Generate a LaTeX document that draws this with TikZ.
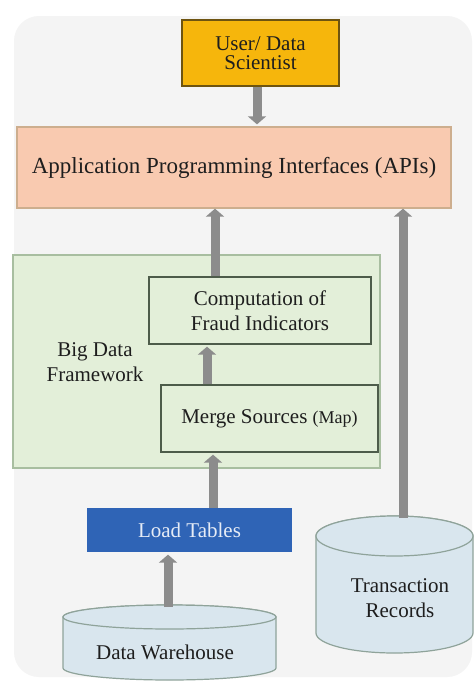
\documentclass[tikz,border=0pt]{standalone}
\usepackage{fontspec}
\setmainfont{Liberation Serif}
\usetikzlibrary{arrows.meta}

\definecolor{panelgray}{HTML}{F4F4F4}
\definecolor{userfill}{HTML}{F6B60C}
\definecolor{userdraw}{HTML}{6E5410}
\definecolor{apifill}{HTML}{F9CAB0}
\definecolor{apidraw}{HTML}{CDAE8E}
\definecolor{greenfill}{HTML}{E3EFD9}
\definecolor{greendraw}{HTML}{A8BEA0}
\definecolor{stepdraw}{HTML}{4D5C4A}
\definecolor{loadfill}{HTML}{2F64B6}
\definecolor{loadtext}{HTML}{E6ECF6}
\definecolor{cylfill}{HTML}{D9E6EE}
\definecolor{cyldraw}{HTML}{8FA39A}
\definecolor{arrowgray}{HTML}{8C8C8C}
\definecolor{textdark}{HTML}{1E1E1E}

\begin{document}
\begin{tikzpicture}[x=1pt,y=-1pt,
  txt/.style={font=\fontsize{21}{25}\selectfont, text=textdark, align=center},
  box/.style={txt, draw, line width=1.3pt, inner sep=0pt, anchor=center},
  flow/.style={draw=arrowgray, line width=9pt,
    -{Triangle[length=8pt,width=18pt]}, shorten >=2pt},
  cyl/.style={fill=cylfill, draw=cyldraw, line width=1.2pt}
]
\useasboundingbox (0,0) rectangle (475,681);
\fill[white] (0,0) rectangle (475,681);
\fill[panelgray, rounded corners=25pt] (14,16) rectangle (472,677);

% framework panel
\node[box, fill=greenfill, draw=greendraw, minimum width=367pt, minimum height=213pt]
  (bdf) at (196.5,361.5) {};
\node[txt] (bdflabel) at (95,362) {Big Data\\Framework};

% boxes
\node[box, fill=userfill, draw=userdraw, minimum width=157pt, minimum height=66pt,
  font=\fontsize{21}{19}\selectfont] (user) at (260.5,53) {User/ Data\\Scientist};
\node[box, fill=apifill, draw=apidraw, minimum width=434pt, minimum height=81pt,
  font=\fontsize{23}{26}\selectfont] (api) at (234,167.5)
  {Application Programming Interfaces (APIs)};
\node[box, fill=greenfill, draw=stepdraw, minimum width=222pt, minimum height=67pt]
  (comp) at (260,310.5) {Computation of\\Fraud Indicators};
\node[box, fill=greenfill, draw=stepdraw, minimum width=217pt, minimum height=67pt]
  (merge) at (269.5,418.5) {Merge Sources {\fontsize{18}{20}\selectfont(Map)}};
\node[box, fill=loadfill, draw=loadfill, text=loadtext, minimum width=203pt, minimum height=42pt]
  (load) at (189.5,530) {Load Tables};

% Data Warehouse cylinder
\path[cyl] (63,617) -- (63,668)
  arc[start angle=180, end angle=360, x radius=106.5pt, y radius=12pt]
  -- (276,617)
  arc[start angle=0, end angle=180, x radius=106.5pt, y radius=12pt] -- cycle;
\draw[cyl] (169.5,617) ellipse [x radius=106.5pt, y radius=12pt];
\node[txt] (dw) at (165,652) {Data Warehouse};
\coordinate (dwtop) at (168,607);

% Transaction Records cylinder
\path[cyl] (316,536) -- (316,633)
  arc[start angle=180, end angle=360, x radius=78.5pt, y radius=20pt]
  -- (473,536)
  arc[start angle=0, end angle=180, x radius=78.5pt, y radius=20pt] -- cycle;
\draw[cyl] (394.5,536) ellipse [x radius=78.5pt, y radius=20pt];
\node[txt] (tr) at (400,598) {Transaction\\Records};
\coordinate (trtop) at (403,518);

% vertical guides for the arrows
\coordinate (xa) at (257,0);
\coordinate (xb) at (215,0);
\coordinate (xc) at (207,0);
\coordinate (xd) at (213,0);

% connectors
\draw[flow] (user.south -| xa) -- (api.north -| xa);
\draw[flow, shorten >=0pt] (comp.north -| xb) -- (api.south -| xb);
\draw[flow, shorten >=0pt] (trtop) -- (api.south -| trtop);
\draw[flow] (merge.north -| xc) -- (comp.south -| xc);
\draw[flow] (load.north -| xd) -- (merge.south -| xd);
\draw[flow, shorten >=3pt] (dwtop) -- (load.south -| dwtop);
\end{tikzpicture}
\end{document}
